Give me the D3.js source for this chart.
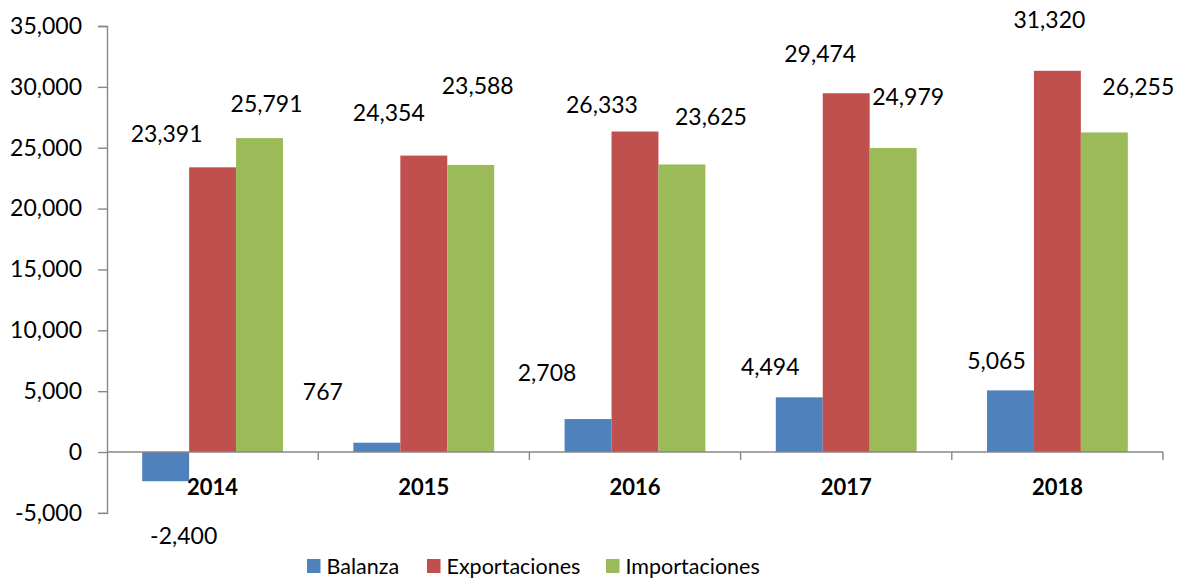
<!DOCTYPE html>
<html>
<head>
<meta charset="utf-8">
<script src="https://cdn.jsdelivr.net/npm/d3@7"></script>
<style>
  html, body { margin: 0; padding: 0; background: #fff; }
  svg text { font-family: Lato, "Open Sans", sans-serif; fill: #000; }
</style>
</head>
<body>
<svg id="chart" width="1182" height="580"></svg>
<script>
// ---- data ----
const years = ["2014", "2015", "2016", "2017", "2018"];
const seriesNames = ["Balanza", "Exportaciones", "Importaciones"];
const balanza = [-2400, 767, 2708, 4494, 5065];
const exportaciones = [23391, 24354, 26333, 29474, 31320];
const importaciones = [25791, 23588, 23625, 24979, 26255];
const yTicks = [-5000, 0, 5000, 10000, 15000, 20000, 25000, 30000, 35000];
// manual data-label nudges (px) relative to bar end, as placed in the original
const labelNudge = [
  [[18, 54], [-46, -34], [7, -34]],
  [[-54, -51], [-35, -43], [7, -79]],
  [[-41, -46], [-33, -27], [29, -48]],
  [[-29, -31], [-26, -40], [15, -51]],
  [[-14, -30], [-8, -51], [34, -46]]
];

const colors = ["#4F81BD", "#C0504D", "#9BBB59"];
const values = [balanza, exportaciones, importaciones];

const locale = d3.formatLocale({ decimal: ".", thousands: ",", grouping: [3], currency: ["", ""], minus: "-" });
const fmt = locale.format(",");

const svg = d3.select("#chart");
const x0 = 107, x1 = 1163;
const y = d3.scaleLinear().domain([-5000, 35000]).range([512.9, 26]);
const x = d3.scaleBand().domain(years).range([x0, x1]).paddingInner(0).paddingOuter(0);
const bw = x.bandwidth() / 4.5;
const xs = d3.scaleBand().domain(seriesNames).range([bw * 0.75, x.bandwidth() - bw * 0.75]).padding(0);

const axisColor = "#878787";

// bars
years.forEach((yr, i) => {
  seriesNames.forEach((s, j) => {
    const v = values[j][i];
    const bx = x(yr) + xs(s);
    svg.append("rect")
      .attr("x", bx)
      .attr("y", Math.min(y(v), y(0)))
      .attr("width", xs.bandwidth())
      .attr("height", Math.abs(y(v) - y(0)))
      .attr("fill", colors[j]);
  });
});

// y axis
const yAxis = d3.axisLeft(y).tickValues(yTicks).tickSize(9).tickPadding(16)
  .tickFormat(fmt);
const gy = svg.append("g").attr("transform", `translate(${x0},0)`).call(yAxis);
gy.select(".domain").attr("stroke", axisColor).attr("stroke-width", 1.4);
gy.selectAll(".tick line").attr("stroke", axisColor).attr("stroke-width", 1.4);
gy.selectAll(".tick text").attr("font-size", 23).attr("font-family", "Lato").attr("fill", "#000");

// x axis line at zero with boundary ticks
svg.append("line").attr("x1", x0).attr("x2", x1).attr("y1", y(0)).attr("y2", y(0))
  .attr("stroke", axisColor).attr("stroke-width", 1.4);
years.forEach((yr, i) => {
  const bx = x(yr) + x.bandwidth();
  svg.append("line").attr("x1", bx).attr("x2", bx).attr("y1", y(0)).attr("y2", y(0) + 8)
    .attr("stroke", axisColor).attr("stroke-width", 1.4);
});
// category labels
svg.selectAll(".cat").data(years).enter().append("text")
  .attr("x", d => x(d) + x.bandwidth() / 2)
  .attr("y", 495)
  .attr("text-anchor", "middle")
  .attr("font-size", 22)
  .attr("font-weight", "bold")
  .text(d => d);

// data labels
years.forEach((yr, i) => {
  seriesNames.forEach((s, j) => {
    const v = values[j][i];
    const cx = x(yr) + xs(s) + xs.bandwidth() / 2;
    const cy = y(v);
    const [dx, dy] = labelNudge[i][j];
    svg.append("text")
      .attr("x", cx + dx)
      .attr("y", cy + dy)
      .attr("dy", "0.36em")
      .attr("text-anchor", "middle")
      .attr("font-size", 23)
      .text(fmt(v));
  });
});

// legend
const legendX = [307, 427, 606];
seriesNames.forEach((s, j) => {
  svg.append("rect").attr("x", legendX[j]).attr("y", 559).attr("width", 13.5).attr("height", 14)
    .attr("fill", colors[j]);
  svg.append("text").attr("x", legendX[j] + 19.5).attr("y", 574)
    .attr("font-size", 21.5).text(s);
});
</script>
</body>
</html>
